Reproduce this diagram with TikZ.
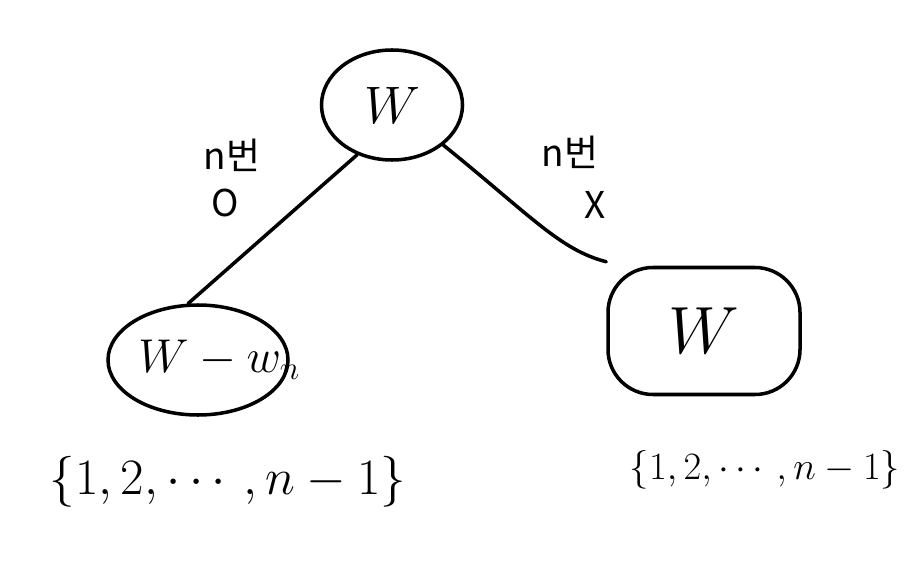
\RequirePackage{fix-cm}
\documentclass[tikz,border=0pt]{standalone}
\usepackage{amsmath}
\usepackage{fontspec}
\usepackage{tikz}
\usetikzlibrary{shapes,positioning}
\newfontfamily\krfont{Noto Sans CJK KR}

\begin{document}
\begin{tikzpicture}[
    blob/.style  = {draw, line width=2pt, ellipse, inner sep=0pt},
    box/.style   = {draw, line width=2pt, rectangle, rounded corners=0.9cm,
                    inner sep=0pt},
    wire/.style  = {line width=2pt, line cap=round},
    lbl/.style   = {font=\krfont\fontsize{21}{23}\selectfont},
    setlbl/.style= {font=\fontsize{29}{31}\selectfont}
]
    \useasboundingbox (0,0) rectangle (18.14,-11.64);

    %-- Nodes ----------------------------------------------------------------
    \node[blob, minimum width=2.82cm, minimum height=2.2cm,
          font=\fontsize{30}{32}\selectfont] (top) at (7.84,-2.10) {$W$};
    % text runs past the ellipse on the right, as drawn by hand
    \node[blob, minimum width=3.6cm, minimum height=2.2cm,
          font=\fontsize{27}{29}\selectfont] (left) at (3.96,-7.20)
          {\makebox[2.2cm][c]{\hspace{0.85cm}$W-w_n$}};
    \node[box, minimum width=3.84cm, minimum height=2.54cm,
          font=\fontsize{38}{40}\selectfont] (right) at (14.08,-6.62) {$W$};

    %-- Edges ----------------------------------------------------------------
    \draw[wire] (top.235) -- (left.100);
    \draw[wire] (top.-38) .. controls (10.6,-4.3) and (11.2,-5.0)
          .. ([shift={(0.0,0.08)}]right.north west);

    %-- Edge labels ----------------------------------------------------------
    \node[lbl] (lnum)  at (4.64,-3.10) {n번};
    \node[lbl] (lyes)  at (4.50,-4.06) {O};
    \node[lbl] (rnum)  at (11.40,-3.04) {n번};
    \node[lbl] (rno)   at (11.90,-4.10) {X};

    %-- Sets under the leaves -------------------------------------------------
    \node[setlbl] (lset) at (4.56,-9.64) {$\{1,2,\cdots,n-1\}$};
    \node[font=\fontsize{22}{24}\selectfont] (rset) at (15.30,-9.40)
          {$\{1,2,\cdots,n-1\}$};

\end{tikzpicture}
\end{document}
